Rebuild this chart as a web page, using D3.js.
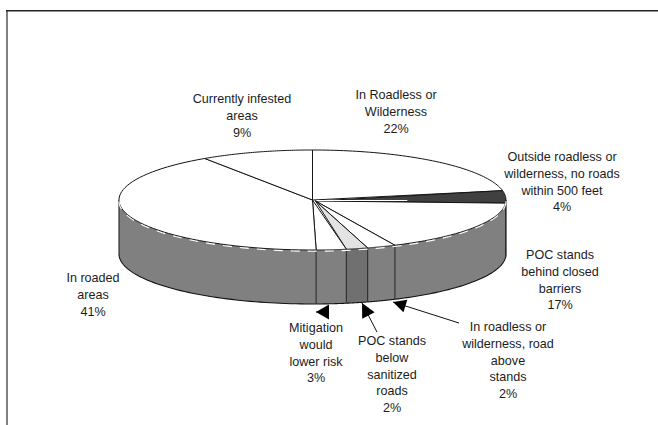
<!DOCTYPE html>
<html><head><meta charset="utf-8">
<script src="https://cdn.jsdelivr.net/npm/d3@7"></script>
<style>html,body{margin:0;padding:0;background:#fff}svg{display:block}text{font-family:"Liberation Sans",Arial,sans-serif;font-size:12.6px;fill:#1c1c1c;text-anchor:middle}</style>
</head><body><svg id="c" width="658" height="425"></svg>
<script>
const categories=["In Roadless or Wilderness","Outside roadless or wilderness, no roads within 500 feet","POC stands behind closed barriers","In roadless or wilderness, road above stands","POC stands below sanitized roads","Mitigation would lower risk","In roaded areas","Currently infested areas"];
const values=[22,4,17,2.4,1.8,2.5,40.9,9.4];
const labelLines=[["In Roadless or","Wilderness","22%"],["Outside roadless or","wilderness, no roads","within 500 feet","4%"],["POC stands","behind closed","barriers","17%"],["In roadless or","wilderness, road","above","stands","2%"],["POC stands","below","sanitized","roads","2%"],["Mitigation","would","lower risk","3%"],["In roaded","areas","41%"],["Currently infested","areas","9%"]];
const topFills=["#ffffff","#404040","#ffffff","#ffffff","#e3e3e3","#ffffff","#ffffff","#ffffff"];
const sideFills=["#808080","#808080","#808080","#808080","#707070","#808080","#808080","#808080"];
// layout
const labelX=[396,562,560,508,392,316,93,242];
const labelY=[99,161,259,331,345,332,282,103];
const apexDx=[0,4,3,3,3,0,0,0];
const leaders=[[393,302,459,323,13,6.5],[362,303,377,332,14,7],[316,312,329,312,13,7.5]];
const cx=312.5,cy=200,rx=193.5,ry=50,depth=54;
const svg=d3.select("#c");
const sx=d3.scaleLinear().domain([-1,1]).range([cx-rx,cx+rx]);
const sy=d3.scaleLinear().domain([-1,1]).range([cy-ry,cy+ry]);
const pie=d3.pie().sort(null).value(d=>d).startAngle(0).endAngle(2*Math.PI)(values);
const px=a=>sx(Math.sin(a)),py=a=>sy(-Math.cos(a));
const arcPts=(a0,a1,off)=>d3.range(0,61).map(i=>{const a=a0+(a1-a0)*i/60;return [px(a),py(a)+off];});
const line=d3.line();
// side wall
pie.forEach((s,i)=>{
  const a0=Math.max(s.startAngle,Math.PI/2),a1=Math.min(s.endAngle,Math.PI*1.5);
  if(a1<=a0)return;
  svg.append("path").attr("d",line(arcPts(a0,a1,0).concat(arcPts(a1,a0,depth)))+"Z").attr("fill",sideFills[i]);
  svg.append("path").attr("d",line(arcPts(a0,a1,depth))).attr("fill","none").attr("stroke","#111").attr("stroke-width",1.1);
});
pie.forEach((s,i)=>{
  if(i<2||i>=6)return;
  const a=s.startAngle;
  svg.append("line").attr("x1",px(a)).attr("x2",px(a)).attr("y1",py(a)).attr("y2",py(a)+depth).attr("stroke","#2a2a2a").attr("stroke-width",1.1);
});
const lastSpoke=pie[5].endAngle;
svg.append("line").attr("x1",px(lastSpoke)).attr("x2",px(lastSpoke)).attr("y1",py(lastSpoke)).attr("y2",py(lastSpoke)+depth).attr("stroke","#2a2a2a").attr("stroke-width",1.1);
[Math.PI/2,Math.PI*1.5].forEach(a=>svg.append("line").attr("x1",px(a)).attr("x2",px(a)).attr("y1",py(a)).attr("y2",py(a)+depth).attr("stroke","#222").attr("stroke-width",1.1));
// top
pie.forEach((s,i)=>{
  const pts=[[cx+apexDx[i],cy+(apexDx[i]?1:0)]].concat(arcPts(s.startAngle,s.endAngle,0));
  svg.append("path").attr("d",line(pts)+"Z").attr("fill",topFills[i]).attr("stroke","#151515").attr("stroke-width",1);
});
// white fragments along the front rim
svg.append("path").attr("d",line(arcPts(Math.PI/2,Math.PI*1.5,1.2))).attr("fill","none").attr("stroke","#fff").attr("stroke-width",1.1).attr("stroke-dasharray","9 8");
svg.append("line").attr("x1",sx(0.02)).attr("x2",sx(0.49)).attr("y1",cy+0.5).attr("y2",cy+0.5).attr("stroke","#fff").attr("stroke-width",1);
// labels
labelLines.forEach((ls,i)=>{
  const t=svg.append("text").attr("x",labelX[i]).attr("y",labelY[i]);
  ls.forEach((l,j)=>t.append("tspan").attr("x",labelX[i]).attr("dy",j?16.8:0).text(l));
});
// leaders
leaders.forEach(([x1,y1,x2,y2,L,W])=>{
  const ang=Math.atan2(y2-y1,x2-x1);
  svg.append("line").attr("x1",x1).attr("y1",y1).attr("x2",x2).attr("y2",y2).attr("stroke","#111");
  const bx=x1+L*Math.cos(ang),by=y1+L*Math.sin(ang),nx=-Math.sin(ang)*W,ny=Math.cos(ang)*W;
  svg.append("path").attr("d",line([[x1,y1],[bx+nx,by+ny],[bx-nx,by-ny]])+"Z").attr("fill","#000");
});
// frame
svg.append("line").attr("x1",7).attr("x2",7).attr("y1",10).attr("y2",425).attr("stroke","#808080").attr("stroke-width",2);
svg.append("line").attr("x1",6).attr("x2",658).attr("y1",10.7).attr("y2",10.7).attr("stroke","#222").attr("stroke-width",1.4);
</script></body></html>
